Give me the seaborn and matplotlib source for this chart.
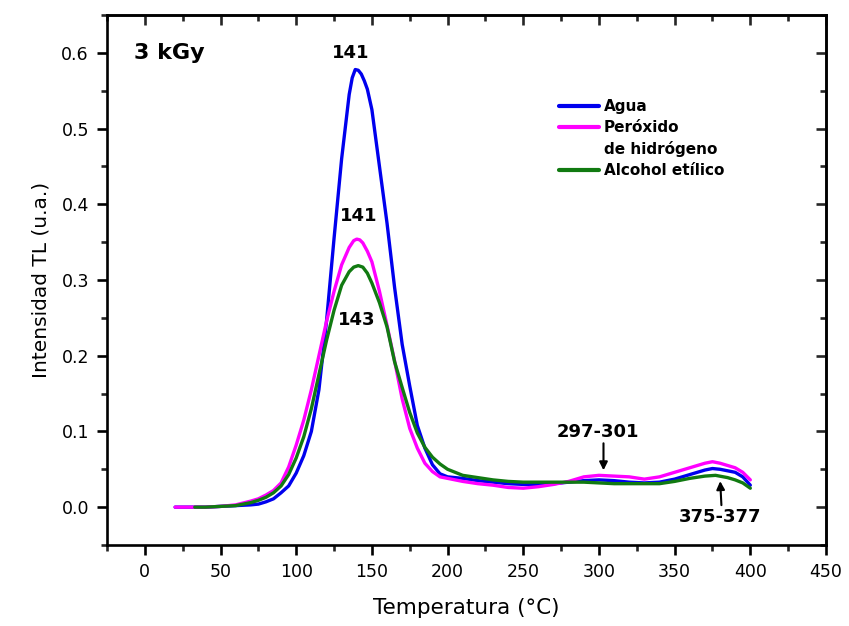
import numpy as np
import pandas as pd
import matplotlib
matplotlib.use("Agg")
import matplotlib.pyplot as plt
from matplotlib.lines import Line2D
from matplotlib.ticker import MultipleLocator, FormatStrFormatter
import seaborn as sns

# ---- data ----
t_agua = [20, 30, 40, 50, 60, 70, 75, 80, 85, 90, 95, 100, 105, 110, 115, 120, 125, 130, 135, 137, 139, 141, 143, 145,
          147, 150, 155, 160, 165, 170, 175, 180, 185, 190, 195, 200, 210, 220, 230, 240, 250, 260, 270, 280, 290,
          300, 310, 320, 330, 340, 350, 360, 370, 375, 380, 385, 390, 395, 400]
i_agua = [0.0, 0.0, 0.0, 0.001, 0.002, 0.003, 0.004, 0.007, 0.011, 0.019, 0.028, 0.045, 0.068, 0.100, 0.155,
          0.245, 0.355, 0.460, 0.545, 0.567, 0.578, 0.577, 0.572, 0.563, 0.552, 0.525, 0.450, 0.375, 0.290,
          0.215, 0.160, 0.108, 0.078, 0.056, 0.044, 0.040, 0.038, 0.035, 0.033, 0.031, 0.030, 0.030, 0.031,
          0.033, 0.035, 0.036, 0.035, 0.033, 0.032, 0.033, 0.037, 0.043, 0.049, 0.051, 0.050, 0.048, 0.046,
          0.040, 0.029]

t_perox = [20, 30, 40, 50, 60, 70, 75, 80, 85, 90, 95, 100, 105, 110, 115, 120, 125, 130, 135, 138, 140, 142, 144,
           147, 150, 155, 160, 165, 170, 175, 180, 185, 190, 195, 200, 210, 220, 230, 240, 250, 260, 270, 280, 290,
           300, 310, 320, 330, 340, 350, 360, 370, 375, 380, 385, 390, 395, 400]
i_perox = [0.0, 0.0, 0.0, 0.001, 0.003, 0.008, 0.011, 0.016, 0.022, 0.032, 0.053, 0.082, 0.115, 0.155, 0.200,
           0.245, 0.285, 0.320, 0.343, 0.352, 0.354, 0.353, 0.349, 0.338, 0.324, 0.285, 0.240, 0.193, 0.143,
           0.104, 0.078, 0.058, 0.047, 0.040, 0.038, 0.034, 0.031, 0.029, 0.026, 0.025, 0.027, 0.030, 0.034,
           0.040, 0.042, 0.041, 0.040, 0.037, 0.040, 0.046, 0.052, 0.058, 0.060, 0.058, 0.055, 0.052, 0.046,
           0.036]

t_alcohol = [33, 40, 50, 60, 70, 75, 80, 85, 90, 95, 100, 105, 110, 115, 120, 125, 130, 135, 138, 141, 144, 147,
             150, 155, 160, 165, 170, 175, 180, 185, 190, 195, 200, 210, 220, 230, 240, 250, 260, 270, 280, 290,
             300, 310, 320, 330, 340, 350, 360, 370, 377, 385, 390, 395, 400]
i_alcohol = [0.0, 0.0, 0.001, 0.002, 0.006, 0.009, 0.013, 0.019, 0.028, 0.043, 0.065, 0.093, 0.130, 0.175,
             0.220, 0.260, 0.293, 0.311, 0.317, 0.319, 0.317, 0.309, 0.296, 0.270, 0.238, 0.192, 0.158, 0.125,
             0.098, 0.079, 0.066, 0.057, 0.050, 0.042, 0.039, 0.036, 0.034, 0.033, 0.033, 0.033, 0.033, 0.033,
             0.032, 0.031, 0.031, 0.031, 0.031, 0.034, 0.038, 0.041, 0.042, 0.039, 0.036, 0.032, 0.025]

series_names = ["Agua", "Peróxido\nde hidrógeno", "Alcohol etílico"]
series_colors = ["#0000ee", "#ff00ff", "#117a11"]

peak_labels = ["141", "141", "143"]
peak_pos = [(136, 0.600), (141, 0.385), (140, 0.247)]
band_labels = ["297-301", "375-377"]

# ---- figure ----
sns.set_style("ticks")
plt.rcParams["font.family"] = ["DejaVu Sans"]
plt.rcParams["text.color"] = "black"
plt.rcParams["axes.labelcolor"] = "black"

fig = plt.figure(figsize=(8.49, 6.26), dpi=100)
ax = fig.add_axes([107 / 849, 81 / 626, 719 / 849, 530 / 626])

frames = [
    pd.DataFrame({"T": t_agua, "I": i_agua, "s": series_names[0]}),
    pd.DataFrame({"T": t_perox, "I": i_perox, "s": series_names[1]}),
    pd.DataFrame({"T": t_alcohol, "I": i_alcohol, "s": series_names[2]}),
]
for df, c in zip(frames, series_colors):
    sns.lineplot(data=df, x="T", y="I", color=c, linewidth=2.4, ax=ax, legend=False,
                 estimator=None, sort=False, solid_joinstyle="round", solid_capstyle="round")

ax.set_xlim(-25, 450)
ax.set_ylim(-0.05, 0.65)
ax.xaxis.set_major_locator(MultipleLocator(50))
ax.xaxis.set_minor_locator(MultipleLocator(25))
ax.yaxis.set_major_locator(MultipleLocator(0.1))
ax.yaxis.set_minor_locator(MultipleLocator(0.05))
ax.yaxis.set_major_formatter(FormatStrFormatter("%.1f"))

for sp in ax.spines.values():
    sp.set_visible(True)
    sp.set_linewidth(1.9)
    sp.set_color("black")

ax.tick_params(axis="both", which="major", direction="out", length=7, width=1.9,
               labelsize=12.5, colors="black", pad=6)
ax.tick_params(axis="both", which="minor", direction="out", length=4, width=1.9)

# mirrored inward ticks on top and right
secx = ax.secondary_xaxis("top")
secx.xaxis.set_major_locator(MultipleLocator(50))
secx.xaxis.set_minor_locator(MultipleLocator(25))
secx.tick_params(axis="x", which="major", direction="in", length=7, width=1.9, labeltop=False)
secx.tick_params(axis="x", which="minor", direction="in", length=4, width=1.9)
secx.spines["top"].set_linewidth(1.9)
secy = ax.secondary_yaxis("right")
secy.yaxis.set_major_locator(MultipleLocator(0.1))
secy.yaxis.set_minor_locator(MultipleLocator(0.05))
secy.tick_params(axis="y", which="major", direction="in", length=7, width=1.9, labelright=False)
secy.tick_params(axis="y", which="minor", direction="in", length=4, width=1.9)
secy.spines["right"].set_linewidth(1.9)

ax.set_xlabel("Temperatura (°C)", fontsize=15.5, labelpad=12)
ax.set_ylabel("Intensidad TL (u.a.)", fontsize=14.5, labelpad=8)

# annotations
ax.text(-7, 0.600, "3 kGy", fontsize=16, fontweight="bold", ha="left", va="center")
for lab, (x, y) in zip(peak_labels, peak_pos):
    ax.text(x, y, lab, fontsize=13, fontweight="bold", ha="center", va="center")

ax.text(299, 0.099, band_labels[0], fontsize=13, fontweight="bold", ha="center", va="center")
ax.annotate("", xy=(303, 0.045), xytext=(303, 0.088),
            arrowprops=dict(arrowstyle="-|>", color="black", lw=1.5, mutation_scale=12))
ax.text(380, -0.013, band_labels[1], fontsize=13, fontweight="bold", ha="center", va="center")
ax.annotate("", xy=(380, 0.038), xytext=(381, -0.001),
            arrowprops=dict(arrowstyle="-|>", color="black", lw=1.5, mutation_scale=12))

# legend
names_split = ["Agua", "Peróxido", "de hidrógeno", "Alcohol etílico"]
handles = [Line2D([], [], color=series_colors[0], lw=3),
           Line2D([], [], color=series_colors[1], lw=3),
           Line2D([], [], color="none", lw=3),
           Line2D([], [], color=series_colors[2], lw=3)]
leg = ax.legend(handles, names_split, loc="upper left", bbox_to_anchor=(0.62, 0.853),
                frameon=False, prop={"weight": "bold", "size": 11},
                handlelength=2.6, handletextpad=0.35, labelspacing=0.4, borderaxespad=0)

fig.savefig("out.png", dpi=100)
